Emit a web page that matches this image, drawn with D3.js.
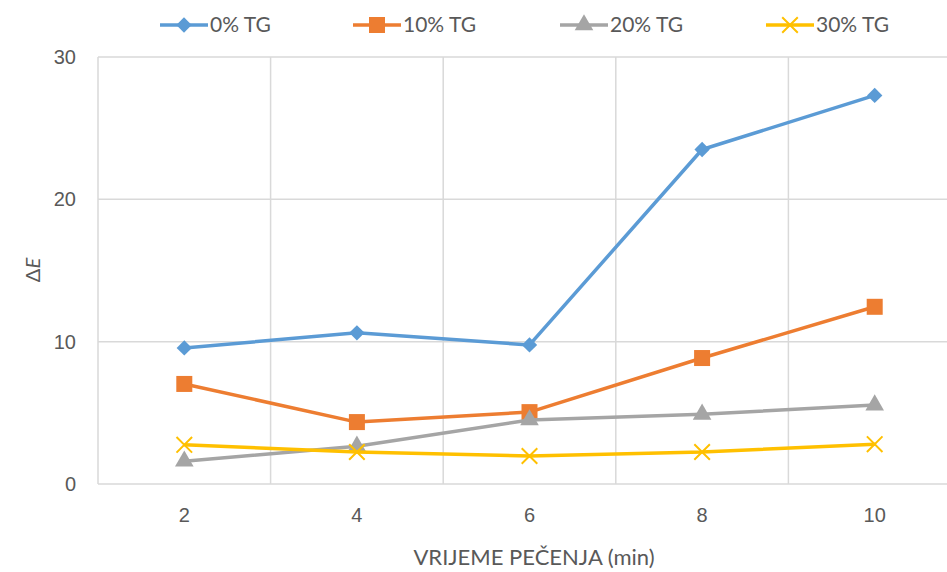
<!DOCTYPE html>
<html>
<head>
<meta charset="utf-8">
<script src="https://cdn.jsdelivr.net/npm/d3@7"></script>
<style>
  body { margin: 0; background: #fff; }
  svg { font-family: Lato, "Open Sans", sans-serif; }
</style>
</head>
<body>
<svg id="chart" width="947" height="572"></svg>
<script>
// données
var vrijeme = ["2", "4", "6", "8", "10"];
var tg0  = [9.56, 10.62, 9.77, 23.5, 27.3];
var tg10 = [7.03, 4.35, 5.05, 8.85, 12.45];
var tg20 = [1.6, 2.65, 4.5, 4.9, 5.55];
var tg30 = [2.75, 2.25, 1.97, 2.25, 2.8];
var yTicks = [0, 10, 20, 30];

var series = [
  {name: "0% TG",  values: tg0,  color: "#5b9bd5", marker: "diamond"},
  {name: "10% TG", values: tg10, color: "#ed7d31", marker: "square"},
  {name: "20% TG", values: tg20, color: "#a5a5a5", marker: "triangle"},
  {name: "30% TG", values: tg30, color: "#ffc000", marker: "cross"}
];

var svg = d3.select("#chart");
var margin = {top: 57, left: 98, bottom: 484, right: 961};

var xScale = d3.scaleBand().domain(vrijeme).range([margin.left, margin.right]);
var yScale = d3.scaleLinear().domain([0, 30]).range([margin.bottom, margin.top]);

// grille horizontale
svg.append("g").selectAll("line")
  .data(yTicks)
  .enter().append("line")
  .attr("x1", margin.left).attr("x2", margin.right)
  .attr("y1", d => yScale(d)).attr("y2", d => yScale(d))
  .attr("stroke", "#d9d9d9").attr("stroke-width", 1.5);

// grille verticale (limites des catégories)
var bounds = vrijeme.map(d => xScale(d)).concat([margin.right]);
svg.append("g").selectAll("line")
  .data(bounds)
  .enter().append("line")
  .attr("x1", d => d).attr("x2", d => d)
  .attr("y1", margin.top).attr("y2", margin.bottom)
  .attr("stroke", "#d9d9d9").attr("stroke-width", 1.5);

// axe des ordonnées
var yAxis = svg.append("g")
  .attr("transform", `translate(${margin.left}, 0)`)
  .call(d3.axisLeft(yScale).tickValues(yTicks).tickSize(0).tickPadding(22));
yAxis.select(".domain").remove();
yAxis.selectAll("text").style("font-size", "20px").attr("fill", "#595959");

// axe des abscisses
var xAxis = svg.append("g")
  .attr("transform", `translate(0, ${margin.bottom})`)
  .call(d3.axisBottom(xScale).tickSize(0).tickPadding(24));
xAxis.select(".domain").remove();
xAxis.selectAll("text").style("font-size", "20px").attr("fill", "#595959");

// titres des axes
svg.append("text")
  .attr("x", 534).attr("y", 565)
  .attr("text-anchor", "middle")
  .style("font-size", "22px").attr("fill", "#595959")
  .text("VRIJEME PEČENJA (min)");

var yLab = svg.append("text")
  .attr("transform", "translate(40, 270) rotate(-90)")
  .attr("text-anchor", "middle")
  .style("font-size", "20px").attr("fill", "#595959");
yLab.append("tspan").text("Δ");
yLab.append("tspan").style("font-style", "italic").text("E");

// marqueurs
function drawMarker(g, type, color, x, y) {
  if (type === "diamond") {
    g.append("path").attr("d", d3.symbol().type(d3.symbolDiamond2).size(150)())
      .attr("transform", `translate(${x},${y})`).attr("fill", color);
  } else if (type === "square") {
    g.append("rect").attr("x", x - 8).attr("y", y - 8).attr("width", 16).attr("height", 16)
      .attr("fill", color);
  } else if (type === "triangle") {
    g.append("path").attr("d", d3.symbol().type(d3.symbolTriangle).size(150)())
      .attr("transform", `translate(${x},${y})`).attr("fill", color);
  } else {
    g.append("path").attr("d", d3.symbol().type(d3.symbolX).size(160)())
      .attr("transform", `translate(${x},${y})`)
      .attr("fill", "none").attr("stroke", color).attr("stroke-width", 2);
  }
}

var line = d3.line()
  .x((d, i) => xScale(vrijeme[i]) + xScale.bandwidth() / 2)
  .y(d => yScale(d));

series.forEach(function (s) {
  var g = svg.append("g");
  g.append("path")
    .attr("d", line(s.values))
    .attr("fill", "none")
    .attr("stroke", s.color)
    .attr("stroke-width", 3.5)
    .attr("stroke-linejoin", "round");
  s.values.forEach(function (v, i) {
    drawMarker(g, s.marker, s.color, xScale(vrijeme[i]) + xScale.bandwidth() / 2, yScale(v));
  });
});

// légende
var legendX = [160, 353, 560, 766];
series.forEach(function (s, i) {
  var g = svg.append("g").attr("transform", `translate(${legendX[i]}, 25)`);
  g.append("line").attr("x1", 0).attr("x2", 48).attr("y1", 0).attr("y2", 0)
    .attr("stroke", s.color).attr("stroke-width", 3.5);
  drawMarker(g, s.marker, s.color, 24, 0);
  g.append("text").attr("x", 50).attr("y", 7)
    .style("font-size", "21px").attr("fill", "#595959")
    .text(s.name);
});
</script>
</body>
</html>
